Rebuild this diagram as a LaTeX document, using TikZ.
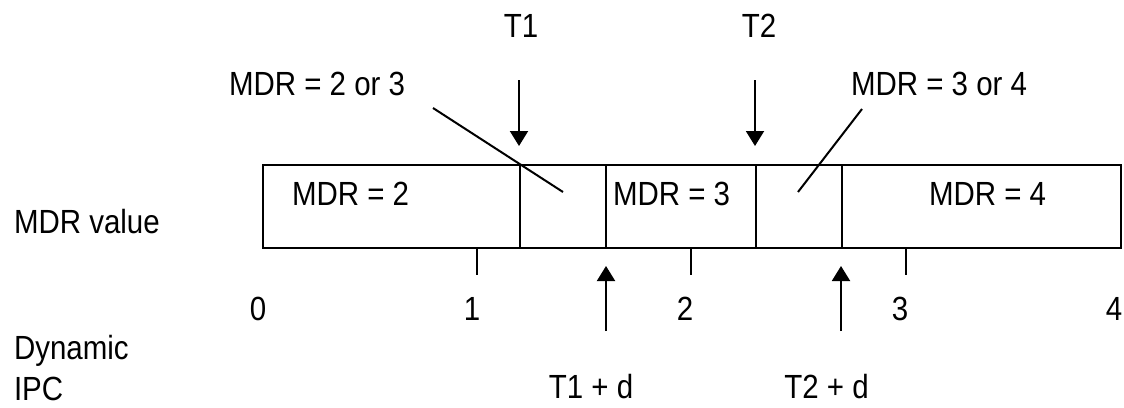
\documentclass[tikz,border=0pt]{standalone}
\usepackage{fontspec}
\setmainfont{Liberation Sans}[FakeStretch=0.88]
\usetikzlibrary{arrows.meta}
\begin{document}
\begin{tikzpicture}[x=1pt,y=-1pt,
  line width=2pt,
  lbl/.style={inner sep=0pt, font=\fontsize{33.5}{40}\selectfont, anchor=base},
  lblw/.style={lbl, anchor=base west},
  cell/.style={draw, line width=2pt, inner sep=0pt, anchor=north west, minimum height=83pt},
  arr/.style={-{Triangle[width=18pt,length=15pt]}, line width=2pt},
  lead/.style={line width=2pt}]
\useasboundingbox (0,0) rectangle (1124,407);
% cells
\node[cell, minimum width=257pt] (c1) at (262,164) {};
\node[cell, minimum width=86pt]  (c2) at (519,164) {};
\node[cell, minimum width=150pt] (c3) at (605,164) {};
\node[cell, minimum width=86pt]  (c4) at (755,164) {};
\node[cell, minimum width=279pt] (c5) at (841,164) {};
% cell labels
\node[lblw] (m2) at (291,205) {MDR = 2};
\node[lblw] (m3) at (612,205) {MDR = 3};
\node[lblw] (m4) at (928,205) {MDR = 4};
% left labels
\node[lblw] (mv) at (13,233) {MDR value};
\node[lblw] (dy) at (13,359) {Dynamic};
\node[lblw] (ipc) at (13,400) {IPC};
% ticks
\coordinate (k1a) at (476.5,247); \coordinate (k1b) at (476.5,275);
\coordinate (k2a) at (691,247);   \coordinate (k2b) at (691,275);
\coordinate (k3a) at (905.5,247); \coordinate (k3b) at (905.5,275);
\draw (k1a) -- (k1b);
\draw (k2a) -- (k2b);
\draw (k3a) -- (k3b);
% tick labels
\node[lbl] (n0) at (258,320) {0};
\node[lbl] (n1) at (472,320) {1};
\node[lbl] (n2) at (685,320) {2};
\node[lbl] (n3) at (900,320) {3};
\node[lbl] (n4) at (1114,320) {4};
% top arrows
\node[lbl] (t1) at (521,37) {T1};
\node[lbl] (t2) at (759,37) {T2};
\coordinate (t1s) at (519,80);  \coordinate (t1e) at (519,146);
\coordinate (t2s) at (755,80);  \coordinate (t2e) at (755,146);
\draw[arr] (t1s) -- (t1e);
\draw[arr] (t2s) -- (t2e);
% bottom arrows
\node[lbl] (t1d) at (591,398) {T1 + d};
\node[lbl] (t2d) at (826.5,398) {T2 + d};
\coordinate (u1s) at (606,331); \coordinate (u1e) at (606,266);
\coordinate (u2s) at (841,331); \coordinate (u2e) at (841,266);
\draw[arr] (u1s) -- (u1e);
\draw[arr] (u2s) -- (u2e);
% leaders
\node[lblw] (l23) at (228,95) {MDR = 2 or 3};
\node[lblw] (l34) at (850,95) {MDR = 3 or 4};
\coordinate (a1) at (433,108); \coordinate (a2) at (563,192);
\coordinate (b1) at (862,109); \coordinate (b2) at (798,192);
\draw[lead] (a1) -- (a2);
\draw[lead] (b1) -- (b2);
\end{tikzpicture}
\end{document}
